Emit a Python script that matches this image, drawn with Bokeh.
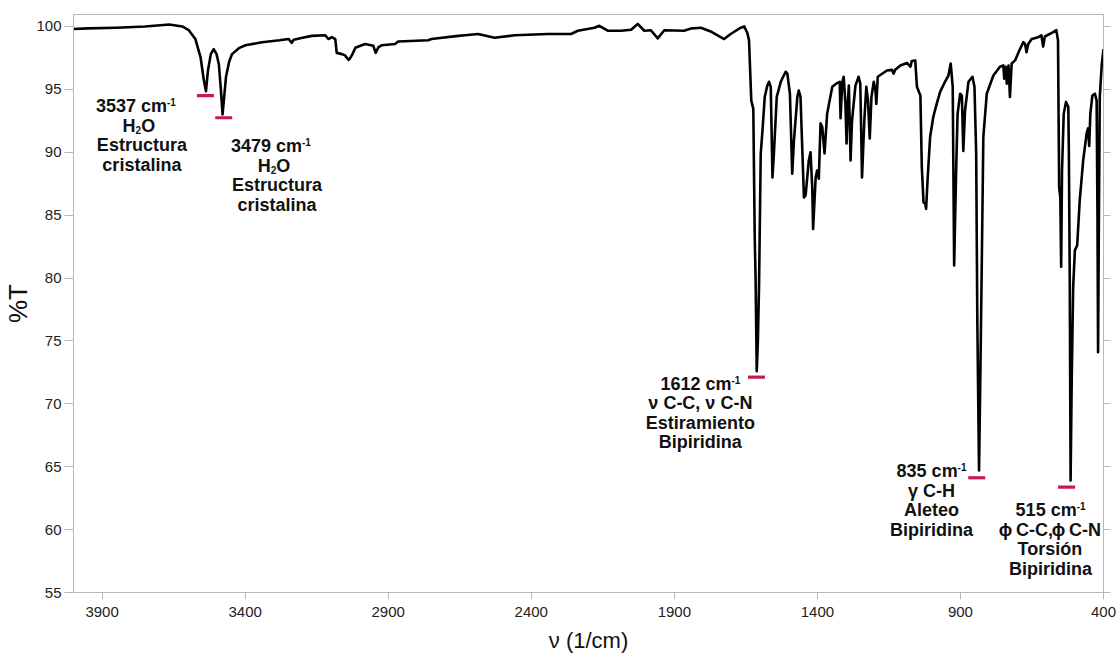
from bokeh.plotting import figure
from bokeh.models import Range1d, FixedTicker, LinearAxis, ColumnDataSource
from bokeh.core.properties import value, field
from bokeh.embed import file_html
from bokeh.resources import INLINE

# ---------------- data ----------------
wavenumber = [
    4000, 3950, 3850, 3750, 3665, 3620, 3597, 3574, 3556, 3545, 3537, 3530, 3520, 3510,
    3500, 3492, 3485, 3479, 3473, 3467, 3456, 3446, 3420, 3399, 3341, 3280, 3248, 3237,
    3230, 3200, 3167, 3120, 3109, 3097, 3085, 3080, 3062, 3051, 3039, 3035, 3025, 3015,
    2981, 2952, 2944, 2934, 2923, 2876, 2865, 2760, 2749, 2655, 2632, 2586, 2528, 2458,
    2342, 2261, 2237, 2179, 2162, 2133, 2086, 2051, 2028, 2005, 1982, 1958, 1935, 1866,
    1842, 1807, 1773, 1726, 1703, 1668, 1656, 1645, 1639, 1631, 1624, 1619, 1616, 1612,
    1608, 1604, 1598, 1592, 1584, 1575, 1569, 1563, 1557, 1552, 1542, 1528, 1511, 1505,
    1496, 1488, 1482, 1470, 1465, 1459, 1453, 1447, 1441, 1430, 1424, 1418, 1415, 1406,
    1401, 1395, 1389, 1383, 1375, 1366, 1348, 1331, 1322, 1319, 1313, 1308, 1302, 1298,
    1294, 1290, 1284, 1279, 1267, 1256, 1250, 1244, 1236, 1229, 1223, 1217, 1211, 1203,
    1197, 1194, 1189, 1157, 1139, 1134, 1128, 1110, 1087, 1075, 1070, 1058, 1052, 1040,
    1035, 1029, 1023, 1020, 1015, 1006, 995, 983, 971, 954, 942, 934, 927, 922, 915, 910,
    901, 895, 890, 884, 872, 858, 851, 845, 841, 835, 830, 825, 820, 808, 785, 762, 750,
    747, 742, 738, 732, 727, 721, 709, 692, 680, 674, 669, 663, 651, 628, 617, 611, 605,
    576, 565, 559, 555, 551, 548, 545, 539, 531, 523, 521, 518, 515, 511, 506, 500, 492,
    483, 471, 459, 454, 450, 446, 439, 430, 424, 421, 419, 416, 413, 406, 400,
]
transmittance = [
    99.8, 99.85, 99.9, 100.0, 100.15, 100.0, 99.7, 99.0, 97.56, 95.8, 94.85, 96.5, 97.8, 98.2,
    97.8, 97.0, 95.0, 93.0, 94.5, 96.0, 97.2, 97.8, 98.3, 98.5, 98.75, 98.9, 99.0, 98.7,
    98.95, 99.1, 99.25, 99.3, 99.0, 99.15, 99.0, 97.9, 97.8, 97.7, 97.35, 97.4, 97.8, 98.3,
    98.6, 98.46, 97.9, 98.35, 98.5, 98.6, 98.8, 98.9, 99.0, 99.25, 99.3, 99.4, 99.1, 99.3,
    99.4, 99.4, 99.66, 99.9, 100.05, 99.66, 99.66, 99.74, 100.2, 99.66, 99.7, 99.05, 99.7, 99.66,
    99.84, 99.9, 99.6, 99.0, 99.4, 99.9, 100.0, 99.5, 98.9, 94.1, 93.45, 83.25, 80.0, 72.6,
    75.0, 79.3, 89.9, 91.7, 94.4, 95.3, 95.6, 95.2, 88.0, 89.9, 94.4, 95.6, 96.4, 96.25,
    94.65, 88.3, 90.9, 94.4, 94.9, 94.4, 90.4, 86.4, 86.6, 89.35, 90.0, 87.2, 83.9, 88.0,
    88.55, 87.9, 92.3, 92.0, 89.9, 93.05, 95.2, 95.5, 95.6, 92.7, 95.6, 96.0, 93.85, 90.7,
    93.85, 95.3, 89.35, 92.5, 95.3, 96.0, 95.45, 88.0, 92.5, 95.2, 94.1, 91.1, 94.4, 95.6,
    94.9, 93.85, 96.0, 96.5, 96.55, 96.25, 96.55, 96.9, 97.1, 96.8, 97.25, 97.3, 95.2, 94.5,
    88.8, 86.0, 85.9, 85.5, 87.75, 91.2, 92.8, 93.85, 94.8, 95.6, 96.1, 97.05, 95.2, 81.0, 88.55, 93.05,
    94.65, 94.5, 90.1, 93.3, 95.6, 96.0, 95.2, 89.9, 76.6, 64.7, 73.0, 81.9, 91.2, 94.65, 96.1, 96.8, 96.9,
    95.85, 96.8, 95.45, 96.9, 94.4, 97.05, 97.3, 98.2, 98.75, 98.6, 97.95, 98.6, 99.0, 99.15, 99.3, 98.4, 99.2,
    99.55, 99.7, 98.9, 87.2, 86.4, 80.9, 88.55, 93.05, 94.0, 93.6, 90.0, 80.0, 63.9, 72.0, 79.3, 82.2, 82.6,
    86.2, 89.35, 91.5, 91.9, 90.5, 93.05, 94.5, 94.65, 94.1, 84.6, 74.1, 85.0, 94.4, 97.0, 98.2,
]

x_ticks = [3900, 3400, 2900, 2400, 1900, 1400, 900, 400]
y_ticks = [55, 60, 65, 70, 75, 80, 85, 90, 95, 100]

# peak annotations
peak_numbers = ["3537", "3479", "1612", "835", "515"]
peak_lines = [
    ["H2O", "Estructura", "cristalina"],
    ["H2O", "Estructura", "cristalina"],
    ["ν C-C, ν C-N", "Estiramiento", "Bipiridina"],
    ["γ C-H", "Aleteo", "Bipiridina"],
    ["ϕ C-C,ϕ C-N", "Torsión", "Bipiridina"],
]
marker_x = [3539, 3475, 1613, 843, 529]
marker_y = [94.5, 92.74, 72.12, 64.12, 63.37]

# ---------------- layout ----------------
label_x = [3761, 3289, 1809, 1001, 585]
label_y = [93.66, 90.46, 71.6, 64.64, 61.52]
line_shift_px = [[-6, -3, 0, 0], [-6, -3, 0, 0], [0, 0, 0, 0], [0, 0, 0, 0], [0, 0, 0, 0]]
LINE_PX = 19.5
PX_PER_UNIT = 12.578
MAIN = 18
SMALL = 10
PHI_ADV = 11.0

WIDTHS = {
    " ": 278, ",": 278, "-": 333, "A": 722, "B": 722, "C": 722, "E": 667, "H": 722,
    "N": 722, "O": 778, "T": 611, "a": 556, "c": 556, "d": 611, "e": 556, "i": 278,
    "l": 278, "m": 889, "n": 611, "o": 611, "ó": 611, "p": 611, "r": 389, "s": 556,
    "t": 333, "u": 611, "1": 556,
}


def text_w(s, size):
    if s == "ϕ":
        return PHI_ADV
    return sum(WIDTHS.get(c, 556) for c in s) * size / 1000.0


p = figure(width=1117, height=656, output_backend="svg", toolbar_location=None,
           x_range=Range1d(4000, 400), y_range=Range1d(55, 100.95),
           min_border_left=71, min_border_right=14, min_border_top=14, min_border_bottom=64)
p.background_fill_color = "white"
p.border_fill_color = "white"
p.outline_line_color = "#b8b8b8"
p.xgrid.visible = False
p.ygrid.visible = False

p.line(wavenumber, transmittance, line_color="black", line_width=2.6, line_join="round")

p.rect(x=marker_x, y=marker_y, width=17, height=3.2, width_units="screen",
       height_units="screen", fill_color="#c9184a", line_color=None)

# build annotation text segments (left-aligned runs, centred phi glyphs)
L = dict(x=[], y=[], text=[], xo=[], yo=[], sz=[])
C = dict(x=[], y=[], text=[], xo=[], yo=[], sz=[])


def add_line(segments, x, y, shift):
    total = sum(text_w(s, size) for s, size, _ in segments)
    cur = -total / 2.0 + shift
    for s, size, dy in segments:
        w = text_w(s, size)
        if s == "ϕ":
            d, xo, shown = C, cur + w / 2.0, s
        else:
            shown = s.lstrip(" ")
            lead = text_w(s[: len(s) - len(shown)], size) if len(shown) < len(s) else 0.0
            d, xo = L, cur + lead
        d["x"].append(x); d["y"].append(y); d["text"].append(shown)
        d["xo"].append(xo); d["yo"].append(dy); d["sz"].append(f"{size}px")
        cur += w


def split_phi(line):
    segs, buf = [], ""
    for ch in line:
        if ch == "ϕ":
            if buf:
                segs.append((buf, MAIN, 0)); buf = ""
            segs.append(("ϕ", MAIN, 0))
        else:
            buf += ch
    if buf:
        segs.append((buf, MAIN, 0))
    return segs


for k in range(len(peak_numbers)):
    x0, y0 = label_x[k], label_y[k]
    sh = line_shift_px[k]
    add_line([(peak_numbers[k] + " cm", MAIN, 0), ("-1", SMALL, -4)], x0, y0, sh[0])
    for i, line in enumerate(peak_lines[k]):
        yy = y0 - (i + 1) * LINE_PX / PX_PER_UNIT
        if line == "H2O":
            add_line([("H", MAIN, 0), ("2", SMALL, 4), ("O", MAIN, 0)], x0, yy, sh[i + 1])
        else:
            add_line(split_phi(line), x0, yy, sh[i + 1])

for d, align in ((L, "left"), (C, "center")):
    p.text(x="x", y="y", text="text", x_offset="xo", y_offset="yo",
           source=ColumnDataSource(d),
           text_font=value("Liberation Sans"), text_font_style="bold",
           text_font_size=field("sz"), text_align=align, text_baseline="middle",
           text_color="#111111")

# axes
for ax in (p.xaxis[0], p.yaxis[0]):
    ax.axis_line_color = "#b8b8b8"
    ax.major_tick_line_color = "#b8b8b8"
    ax.minor_tick_line_color = None
    ax.major_tick_in = 0
    ax.major_label_text_font = "Liberation Sans"
    ax.major_label_text_font_size = "15px"
    ax.major_label_text_color = "#222222"
    ax.axis_label_text_font = "Liberation Sans"
    ax.axis_label_text_font_style = "normal"
    ax.axis_label_text_color = "#111111"

p.xaxis.ticker = FixedTicker(ticks=x_ticks)
p.yaxis.ticker = FixedTicker(ticks=y_ticks)
p.xaxis.major_tick_out = 7
p.yaxis.major_tick_out = 9
p.xaxis.major_label_standoff = 7
p.yaxis.major_label_standoff = 3
p.xaxis.axis_label = "ν (1/cm)"
p.xaxis.axis_label_text_font_size = "22px"
p.xaxis.axis_label_standoff = 8
p.yaxis.axis_label = "%T"
p.yaxis.axis_label_text_font_size = "26px"
p.yaxis.axis_label_standoff = 0

right = LinearAxis(ticker=FixedTicker(ticks=y_ticks))
right.axis_line_color = "#b8b8b8"
right.major_tick_line_color = "#b8b8b8"
right.minor_tick_line_color = None
right.major_tick_in = 0
right.major_tick_out = 7
right.major_label_text_font_size = "0px"
right.major_label_text_alpha = 0
right.major_label_standoff = 0
p.add_layout(right, "right")

open("out.html", "w").write(file_html(p, INLINE))
